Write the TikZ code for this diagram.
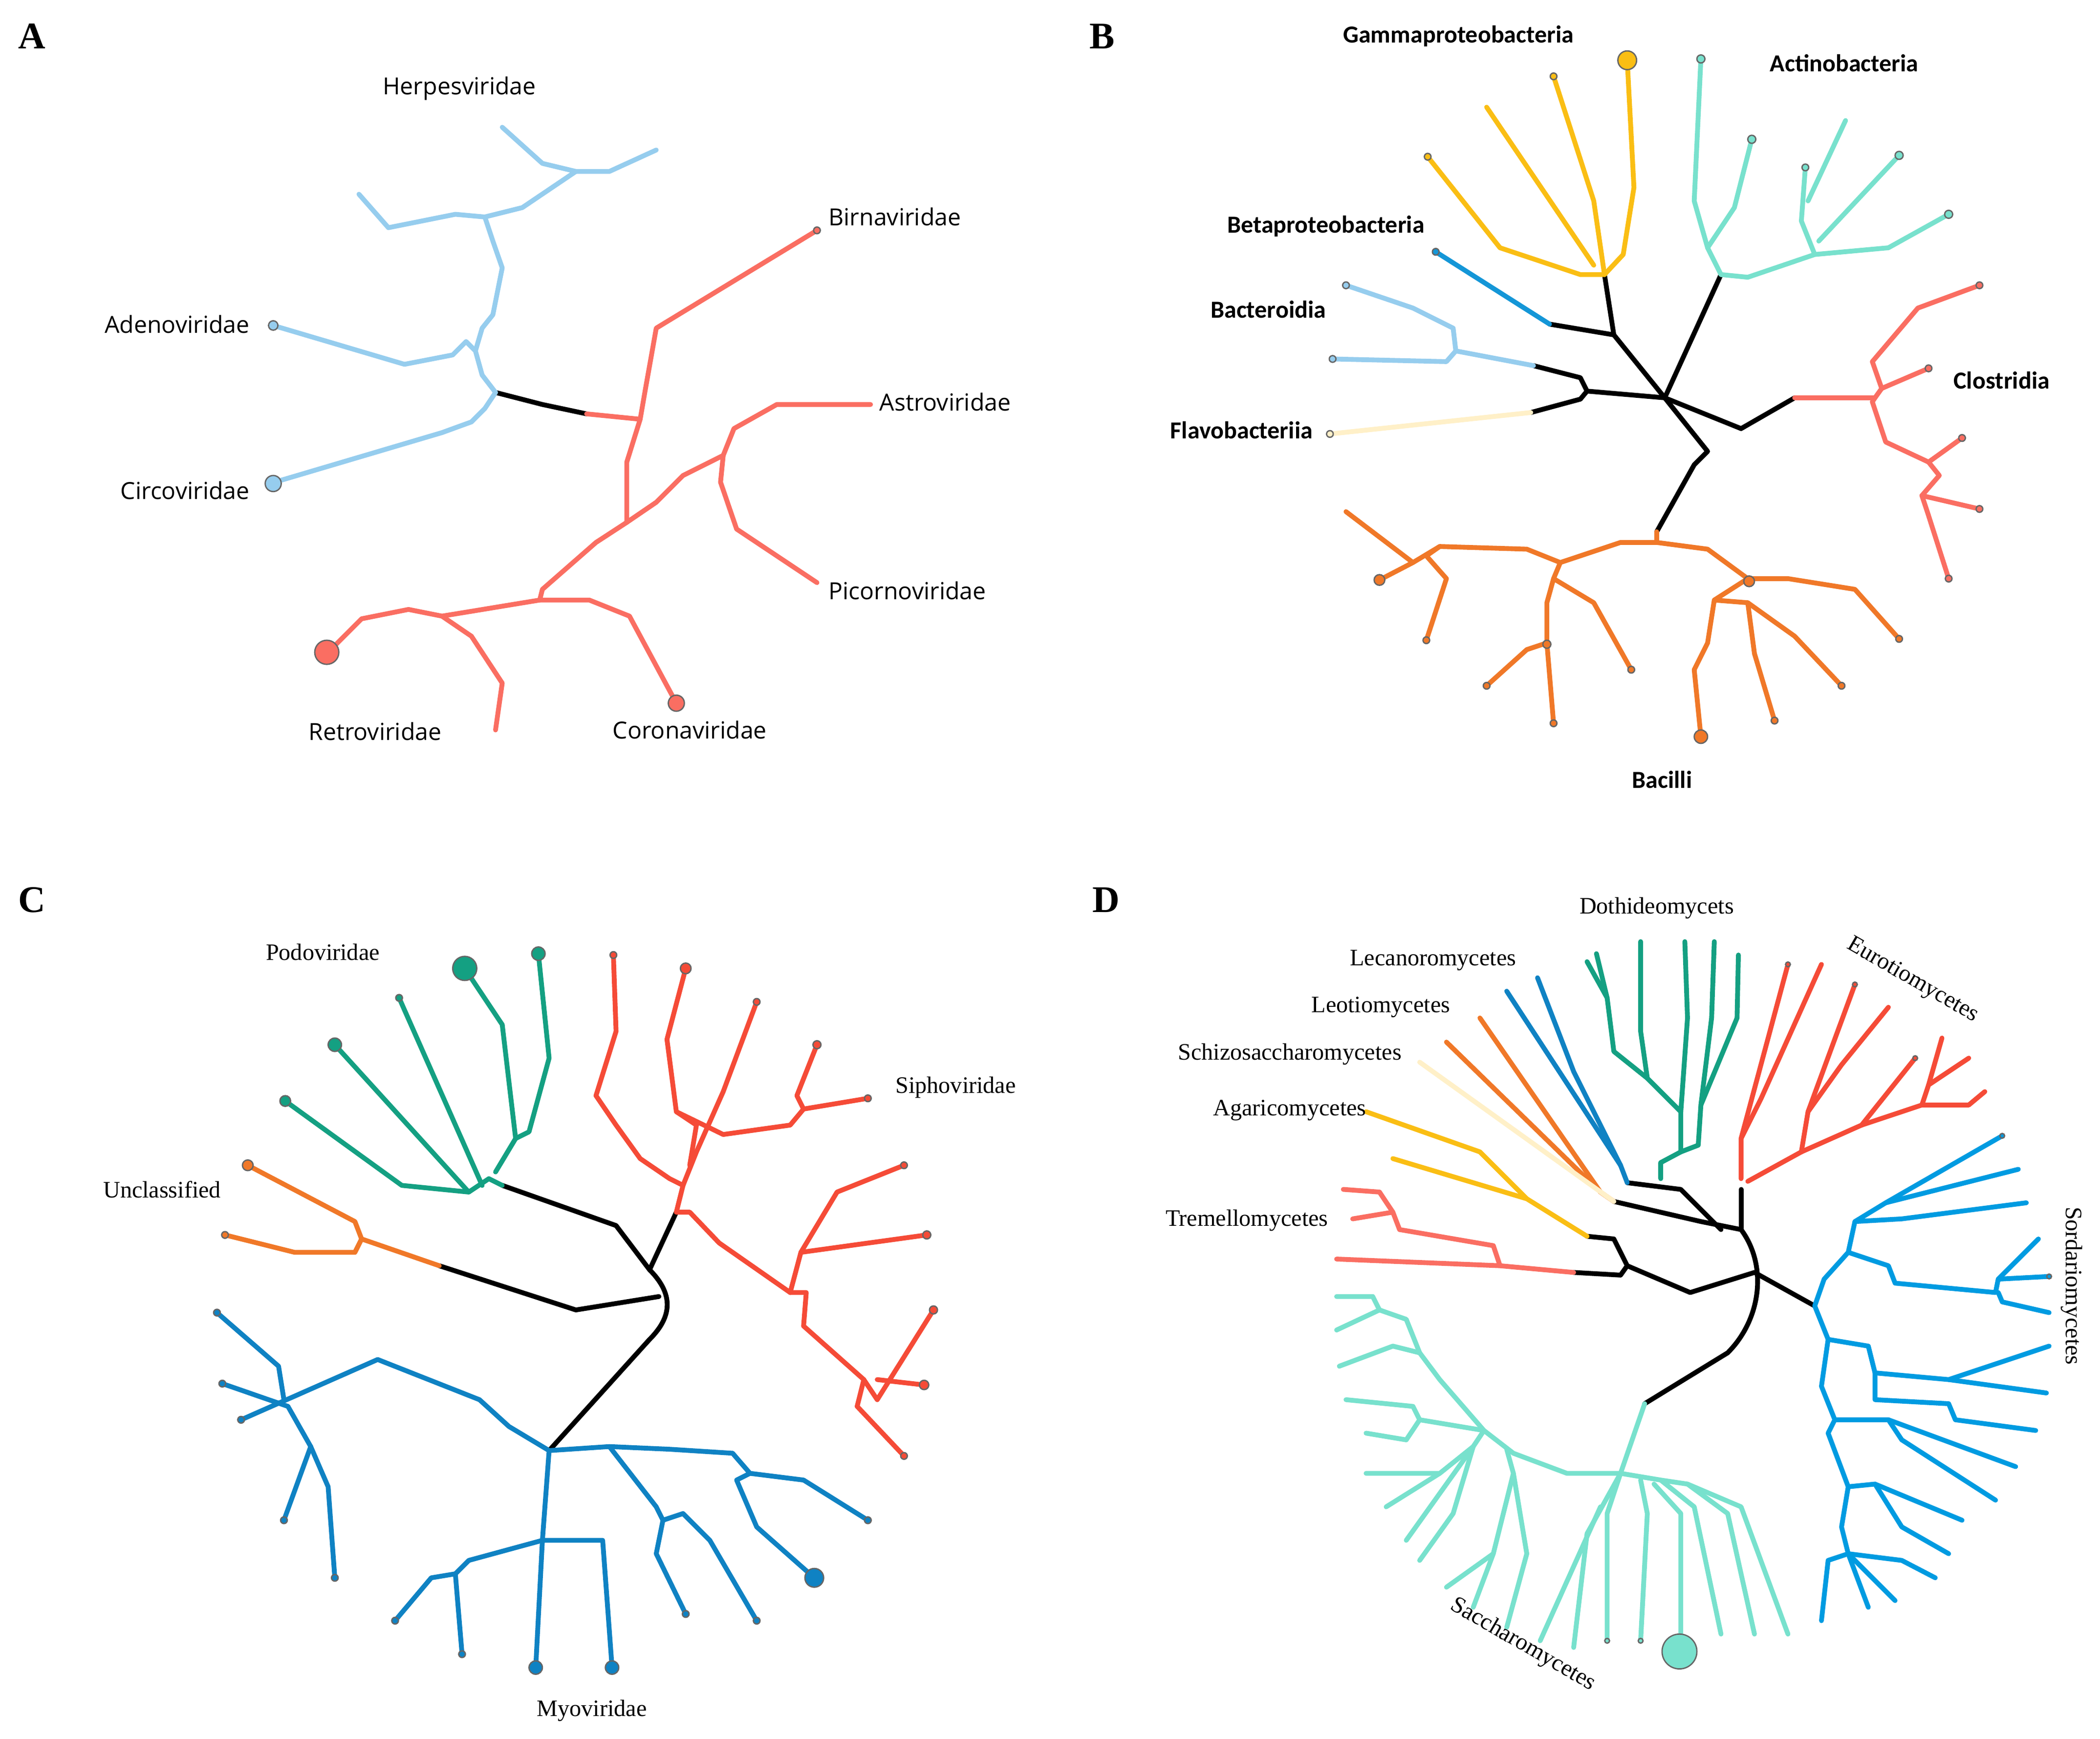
\documentclass[tikz,border=0pt]{standalone}
\usepackage{fontspec}
\setmainfont{Liberation Serif}
\newfontfamily\opensans{Open Sans}
\newfontfamily\carlito{Carlito}
\definecolor{virblue}{RGB}{150,205,238}
\definecolor{virred}{RGB}{250,110,98}
\definecolor{bgold}{RGB}{250,190,20}
\definecolor{baqua}{RGB}{120,225,205}
\definecolor{bblue}{RGB}{20,150,215}
\definecolor{bpale}{RGB}{255,240,200}
\definecolor{borange}{RGB}{240,120,40}
\definecolor{cgreen}{RGB}{20,160,130}
\definecolor{cred}{RGB}{245,75,55}
\definecolor{cblue}{RGB}{15,130,195}
\definecolor{dblue}{RGB}{0,155,225}
\tikzset{
  br/.style={line width=0.36mm, line join=round, line cap=round},
  lab/.style={font=\opensans\fontsize{5}{6}\selectfont, inner sep=0pt},
  blab/.style={font=\carlito\bfseries\fontsize{5.2}{6}\selectfont, inner sep=0pt},
  slab/.style={font=\fontsize{5}{6}\selectfont, inner sep=0pt},
  panel/.style={font=\bfseries\fontsize{8}{9}\selectfont, inner sep=0pt},
}
\newcommand{\tip}[3][2.5]{\fill[#3, draw=black!60, line width=0.1mm] (#2) circle (#1);}
\begin{document}
\begin{tikzpicture}[x=0.1mm, y=-0.1mm]
\useasboundingbox (0,0) rectangle (1568,1298);
% ---- panel A
\node[panel] (pA) at (24,27) {A};
\draw[br] (370,293)--(405,302)--(438,309);
\draw[br, virblue] (370,293)--(362,305)--(352,315)--(330,323)--(205,360);
\draw[br, virblue] (370,293)--(360,280)--(355,262)--(348,255)--(338,265)--(302,272)--(204,243);
\draw[br, virblue] (355,262)--(360,245)--(368,235)--(375,200)--(368,180)--(362,162)--(340,160)--(290,170)--(268,145);
\draw[br, virblue] (362,162)--(390,155)--(430,128)--(405,122)--(375,95);
\draw[br, virblue] (430,128)--(455,128)--(490,112);
\draw[br, virred] (438,309)--(478,313)--(482,290)--(490,245)--(610,172);
\draw[br, virred] (478,313)--(468,345)--(468,390)--(490,375)--(510,355)--(540,340)--(548,320)--(580,302)--(650,302);
\draw[br, virred] (540,340)--(538,360)--(550,395)--(610,435);
\draw[br, virred] (468,390)--(445,405)--(405,440)--(403,448)--(330,460)--(305,455)--(270,462)--(245,487);
\draw[br, virred] (403,448)--(440,448)--(470,460)--(505,525);
\draw[br, virred] (330,460)--(352,475)--(375,510)--(370,545);
\tip[6]{204,361}{virblue} \tip[3.5]{204,243}{virblue} \tip[9]{244,487}{virred} \tip[6]{505,525}{virred} \tip{610,172}{virred}
\node[lab] (hA) at (343,66) {Herpesviridae};
\node[lab, anchor=west] (bA) at (618,162) {Birnaviridae};
\node[lab, anchor=east] (aA) at (187,242) {Adenoviridae};
\node[lab, anchor=west] (asA) at (656,300) {Astroviridae};
\node[lab, anchor=east] (cA) at (187,366) {Circoviridae};
\node[lab, anchor=west] (pcA) at (618,441) {Picornoviridae};
\node[lab] (rA) at (280,546) {Retroviridae};
\node[lab] (coA) at (515,545) {Coronaviridae};
% ---- panel B
\node[panel] (pB) at (823,27) {B};
\draw[br] (1243,297)--(1285,205);
\draw[br] (1243,297)--(1205,250)--(1198,205);
\draw[br] (1205,250)--(1157,242);
\draw[br] (1243,297)--(1185,292)--(1180,282)--(1145,273);
\draw[br] (1185,292)--(1180,298)--(1143,308);
\draw[br] (1243,297)--(1300,320)--(1340,297);
\draw[br] (1243,297)--(1275,337)--(1265,347)--(1237,397);
\draw[br, bblue] (1157,242)--(1072,188);
\draw[br, bpale] (1143,308)--(993,324);
\draw[br, bgold] (1198,205)--(1212,190)--(1220,140)--(1215,45);
\draw[br, bgold] (1198,205)--(1190,150)--(1160,57);
\draw[br, bgold] (1190,198)--(1110,80);
\draw[br, bgold] (1198,205)--(1180,205)--(1120,185)--(1066,117);
\draw[br, baqua] (1285,205)--(1305,207)--(1355,190)--(1410,185)--(1455,160);
\draw[br, baqua] (1285,205)--(1275,185)--(1295,155)--(1308,104);
\draw[br, baqua] (1275,185)--(1265,150)--(1270,44);
\draw[br, baqua] (1355,190)--(1345,165)--(1348,125);
\draw[br, baqua] (1358,180)--(1418,116);
\draw[br, baqua] (1350,150)--(1378,90);
\draw[br, virblue] (1145,273)--(1087,262)--(1085,245)--(1055,230)--(1005,213);
\draw[br, virblue] (1087,262)--(1080,270)--(995,268);
\draw[br, virred] (1340,297)--(1400,297)--(1405,290)--(1398,270)--(1432,230)--(1478,213);
\draw[br, virred] (1405,290)--(1440,275);
\draw[br, virred] (1400,297)--(1398,300)--(1408,330)--(1440,345)--(1465,327);
\draw[br, virred] (1440,345)--(1448,355)--(1435,370)--(1440,385)--(1455,432);
\draw[br, virred] (1435,370)--(1478,380);
\draw[br, borange] (1237,397)--(1237,405)--(1275,410)--(1305,432)--(1335,432)--(1385,440)--(1418,477);
\draw[br, borange] (1305,432)--(1280,448)--(1275,480)--(1265,500)--(1270,550);
\draw[br, borange] (1280,448)--(1305,450)--(1310,488)--(1325,538);
\draw[br, borange] (1305,450)--(1340,475)--(1375,512);
\draw[br, borange] (1237,405)--(1210,405)--(1165,420)--(1140,410)--(1075,408)--(1055,420)--(1030,433);
\draw[br, borange] (1075,408)--(1065,415)--(1080,432)--(1065,478);
\draw[br, borange] (1055,420)--(1005,382);
\draw[br, borange] (1165,420)--(1160,432)--(1190,450)--(1218,500);
\draw[br, borange] (1160,432)--(1155,450)--(1155,480)--(1140,485)--(1110,512);
\draw[br, borange] (1155,480)--(1160,540);
\tip[7]{1215,45}{bgold} \tip{1160,57}{bgold} \tip{1066,117}{bgold} \tip{1072,188}{bblue}
\tip[3]{1270,44}{baqua} \tip[3]{1308,104}{baqua} \tip{1348,125}{baqua} \tip[3]{1418,116}{baqua} \tip[3]{1455,160}{baqua}
\tip{1005,213}{virblue} \tip{995,268}{virblue} \tip{993,324}{bpale}
\tip{1478,213}{virred} \tip{1440,275}{virred} \tip{1465,327}{virred} \tip{1478,380}{virred} \tip{1455,432}{virred}
\tip[4]{1030,433}{borange} \tip[4]{1306,434}{borange} \tip[5]{1270,550}{borange} \tip[3]{1155,481}{borange}
\tip{1065,478}{borange} \tip{1218,500}{borange} \tip{1110,512}{borange} \tip{1160,540}{borange}
\tip{1325,538}{borange} \tip{1375,512}{borange} \tip{1418,477}{borange}
\node[blab] (gB) at (1089,27) {Gammaproteobacteria};
\node[blab] (acB) at (1377,47) {Actinobacteria};
\node[blab] (beB) at (990,169) {Betaproteobacteria};
\node[blab] (bcB) at (947,231) {Bacteroidia};
\node[blab, anchor=west] (clB) at (1458,284) {Clostridia};
\node[blab] (flB) at (927,321) {Flavobacteriia};
\node[blab] (baB) at (1241,582) {Bacilli};
% ---- panel C
\node[panel] (pC) at (24,672) {C};
\draw[br] (375,885)--(460,915)--(485,948)--(505,905);
\draw[br] (328,945)--(430,978)--(492,968);
\draw[br] (485,948) .. controls (505,968) and (500,985) .. (485,1000)--(410,1083);
\draw[br, cgreen] (375,885)--(365,880)--(350,890)--(300,885)--(213,822);
\draw[br, cgreen] (350,890)--(250,780);
\draw[br, cgreen] (360,885)--(298,745);
\draw[br, cgreen] (370,875)--(385,850)--(375,765)--(347,723);
\draw[br, cgreen] (385,850)--(395,845)--(410,790)--(402,712);
\draw[br, borange] (328,945)--(270,925)--(265,935)--(220,935)--(168,922);
\draw[br, borange] (270,925)--(265,912)--(185,870);
\draw[br, cred] (505,905)--(510,885)--(500,880)--(478,865)--(460,840)--(445,818)--(460,770)--(458,713);
\draw[br, cred] (510,885)--(520,860)--(540,815)--(565,748);
\draw[br, cred] (515,870)--(520,840)--(505,830)--(498,776)--(512,723);
\draw[br, cred] (505,830)--(540,847)--(590,840)--(600,828)--(595,818)--(610,780);
\draw[br, cred] (600,828)--(648,820);
\draw[br, cred] (505,905)--(515,905)--(537,928)--(590,965)--(598,935)--(625,890)--(675,870);
\draw[br, cred] (598,935)--(692,922);
\draw[br, cred] (590,965)--(602,965)--(600,990)--(645,1030)--(655,1045)--(697,978);
\draw[br, cred] (655,1030)--(690,1034);
\draw[br, cred] (645,1030)--(640,1050)--(675,1087);
\draw[br, cblue] (410,1083)--(455,1080)--(500,1082)--(547,1085);
\draw[br, cblue] (410,1083)--(380,1065)--(358,1045)--(282,1015)--(180,1060);
\draw[br, cblue] (212,1045)--(208,1020)--(162,980);
\draw[br, cblue] (215,1050)--(166,1033);
\draw[br, cblue] (215,1050)--(232,1080)--(245,1110)--(250,1178);
\draw[br, cblue] (232,1080)--(212,1135);
\draw[br, cblue] (410,1083)--(405,1150)--(400,1245);
\draw[br, cblue] (405,1150)--(450,1150)--(457,1245);
\draw[br, cblue] (405,1150)--(350,1165)--(340,1175)--(345,1235);
\draw[br, cblue] (340,1175)--(322,1178)--(295,1210);
\draw[br, cblue] (455,1080)--(490,1125)--(495,1135)--(490,1160)--(512,1205);
\draw[br, cblue] (495,1135)--(510,1130)--(530,1150)--(565,1210);
\draw[br, cblue] (547,1085)--(560,1100)--(550,1105)--(565,1140)--(608,1178);
\draw[br, cblue] (560,1100)--(600,1105)--(648,1135);
\tip[4]{213,822}{cgreen} \tip[5]{250,780}{cgreen} \tip{298,745}{cgreen} \tip[9]{347,723}{cgreen} \tip[5]{402,712}{cgreen}
\tip[4]{185,870}{borange} \tip{168,922}{borange}
\tip{458,713}{cred} \tip[4]{512,723}{cred} \tip{565,748}{cred} \tip[3]{610,780}{cred} \tip{648,820}{cred}
\tip{675,870}{cred} \tip[3]{692,922}{cred} \tip[3]{697,978}{cred} \tip[3.5]{690,1034}{cred} \tip{675,1087}{cred}
\tip{162,980}{cblue} \tip{166,1033}{cblue} \tip{180,1060}{cblue} \tip{212,1135}{cblue} \tip{250,1178}{cblue}
\tip{295,1210}{cblue} \tip{345,1235}{cblue} \tip[5]{400,1245}{cblue} \tip[5]{457,1245}{cblue}
\tip{512,1205}{cblue} \tip{565,1210}{cblue} \tip[7]{608,1178}{cblue} \tip{648,1135}{cblue}
\node[slab] (poC) at (241,711) {Podoviridae};
\node[slab, anchor=west] (siC) at (668,812) {Siphoviridae};
\node[slab] (unC) at (121,888) {Unclassified};
\node[slab] (myC) at (442,1277) {Myoviridae};
% ---- panel D
\node[panel] (pD) at (826,672) {D};
\draw[br] (1300,888)--(1300,918);
\draw[br] (1205,897)--(1270,912)--(1300,918);
\draw[br] (1215,883)--(1255,888)--(1285,918);
\draw[br] (1185,923)--(1205,925)--(1215,945)--(1262,965)--(1310,950);
\draw[br] (1175,950)--(1210,952)--(1215,945);
\draw[br] (1310,950)--(1355,975);
\draw[br] (1300,918) .. controls (1320,945) and (1315,985) .. (1290,1010)--(1228,1048);
\draw[br, cgreen] (1240,880)--(1240,868)--(1255,860)--(1255,830)--(1230,805)--(1225,770)--(1225,703);
\draw[br, cgreen] (1255,830)--(1260,760)--(1258,703);
\draw[br, cgreen] (1255,860)--(1268,855)--(1270,825)--(1278,760)--(1280,703);
\draw[br, cgreen] (1270,825)--(1297,760)--(1298,713);
\draw[br, cgreen] (1230,805)--(1205,785)--(1200,745)--(1185,718);
\draw[br, cgreen] (1200,745)--(1192,712);
\draw[br, cblue] (1215,883)--(1210,870)--(1175,800)--(1148,730);
\draw[br, cblue] (1210,870)--(1125,740);
\draw[br, borange] (1205,897)--(1195,890)--(1105,760);
\draw[br, borange] (1195,890)--(1080,778);
\draw[br, bpale] (1205,897)--(1060,793);
\draw[br, bgold] (1185,923)--(1140,895)--(1040,865);
\draw[br, bgold] (1140,895)--(1105,860)--(1020,830);
\draw[br, virred] (1175,950)--(1120,945)--(998,940);
\draw[br, virred] (1120,945)--(1115,930)--(1045,918)--(1040,905)--(1010,910);
\draw[br, virred] (1040,905)--(1030,890)--(1003,888);
\draw[br, cred] (1300,880)--(1300,850)--(1335,720);
\draw[br, cred] (1300,850)--(1315,820)--(1360,720);
\draw[br, cred] (1305,882)--(1345,860)--(1350,830)--(1385,735);
\draw[br, cred] (1350,830)--(1375,795)--(1410,752);
\draw[br, cred] (1345,860)--(1390,840)--(1430,790);
\draw[br, cred] (1390,840)--(1435,825)--(1440,810)--(1470,790);
\draw[br, cred] (1440,810)--(1450,775);
\draw[br, cred] (1435,825)--(1470,825)--(1482,815);
\draw[br, dblue] (1355,975)--(1362,955)--(1380,935)--(1385,912)--(1408,898)--(1495,848);
\draw[br, dblue] (1408,898)--(1507,873);
\draw[br, dblue] (1385,912)--(1420,910)--(1513,898);
\draw[br, dblue] (1380,935)--(1410,945)--(1415,958)--(1490,965)--(1492,955)--(1522,925);
\draw[br, dblue] (1492,965)--(1495,972)--(1530,980);
\draw[br, dblue] (1492,955)--(1530,953);
\draw[br, dblue] (1355,975)--(1365,1000)--(1395,1005)--(1400,1025)--(1455,1030)--(1530,1005);
\draw[br, dblue] (1455,1030)--(1528,1040);
\draw[br, dblue] (1400,1025)--(1400,1045)--(1455,1048)--(1460,1060)--(1520,1068);
\draw[br, dblue] (1365,1000)--(1360,1035)--(1370,1060)--(1410,1060)--(1420,1075)--(1490,1120);
\draw[br, dblue] (1410,1060)--(1505,1095);
\draw[br, dblue] (1370,1060)--(1365,1070)--(1380,1110)--(1400,1108)--(1465,1135);
\draw[br, dblue] (1400,1108)--(1420,1140)--(1455,1160);
\draw[br, dblue] (1380,1110)--(1375,1140)--(1380,1160)--(1415,1195);
\draw[br, dblue] (1380,1160)--(1365,1165)--(1360,1210);
\draw[br, dblue] (1380,1160)--(1395,1200);
\draw[br, dblue] (1380,1160)--(1420,1165)--(1445,1178);
\draw[br, baqua] (1228,1048)--(1210,1100)--(1170,1100)--(1130,1085)--(1108,1068)--(1075,1030)--(1060,1010)--(1040,1005)--(1000,1020);
\draw[br, baqua] (1060,1010)--(1050,985)--(1030,978)--(998,993);
\draw[br, baqua] (1030,978)--(1025,968)--(998,968);
\draw[br, baqua] (1108,1068)--(1060,1060)--(1055,1050)--(1005,1045);
\draw[br, baqua] (1060,1060)--(1050,1075)--(1020,1070);
\draw[br, baqua] (1108,1068)--(1100,1080)--(1075,1100)--(1020,1100);
\draw[br, baqua] (1075,1100)--(1035,1125);
\draw[br, baqua] (1100,1080)--(1050,1150);
\draw[br, baqua] (1100,1080)--(1085,1130)--(1060,1165);
\draw[br, baqua] (1125,1082)--(1130,1100)--(1115,1160)--(1080,1185);
\draw[br, baqua] (1115,1160)--(1100,1200);
\draw[br, baqua] (1130,1100)--(1140,1160)--(1125,1215);
\draw[br, baqua] (1210,1100)--(1240,1105)--(1260,1108)--(1300,1125)--(1335,1220);
\draw[br, baqua] (1260,1108)--(1290,1130)--(1310,1220);
\draw[br, baqua] (1240,1105)--(1265,1125)--(1285,1220);
\draw[br, baqua] (1235,1108)--(1255,1130)--(1255,1220);
\draw[br, baqua] (1225,1105)--(1230,1130)--(1225,1225);
\draw[br, baqua] (1210,1100)--(1200,1130)--(1200,1225);
\draw[br, baqua] (1210,1100)--(1185,1145)--(1175,1230);
\draw[br, baqua] (1195,1125)--(1150,1225);
\tip[13]{1254,1233}{baqua}
\tip[1.8]{1200,1225}{baqua} \tip[1.8]{1225,1225}{baqua} \tip[1.8]{1335,720}{cred} \tip[1.8]{1385,735}{cred}
\tip[1.8]{1430,790}{cred} \tip[1.8]{1530,953}{dblue} \tip[1.8]{1495,848}{dblue}
\node[slab] (doD) at (1237,678) {Dothideomycets};
\node[slab] (leD) at (1070,717) {Lecanoromycetes};
\node[slab] (loD) at (1031,752) {Leotiomycetes};
\node[slab] (scD) at (963,787) {Schizosaccharomycetes};
\node[slab] (agD) at (963,829) {Agaricomycetes};
\node[slab] (trD) at (931,911) {Tremellomycetes};
\node[slab, rotate=-30] (euD) at (1428,732) {Eurotiomycetes};
\node[slab, rotate=-90] (soD) at (1547,960) {Sordariomycetes};
\node[slab, rotate=-30] (saD) at (1137,1228) {Saccharomycetes};
\end{tikzpicture}
\end{document}
